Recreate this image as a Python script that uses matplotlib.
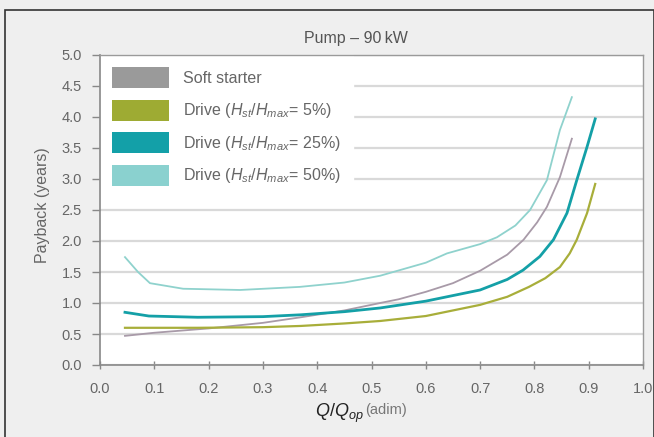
import matplotlib.pyplot as plt
from matplotlib.patches import Patch, Rectangle

plt.rcParams['font.family'] = ['Liberation Sans', 'DejaVu Sans']
plt.rcParams['mathtext.fontset'] = 'custom'
plt.rcParams['mathtext.rm'] = 'Liberation Sans'
plt.rcParams['mathtext.it'] = 'Liberation Sans:italic'

# Payback curves (years) vs relative flow Q/Qop
soft_x = [0.046, 0.10, 0.20, 0.30, 0.37, 0.45, 0.516, 0.55, 0.60, 0.65, 0.70,
          0.75, 0.78, 0.805, 0.823, 0.847, 0.869]
soft_y = [0.47, 0.52, 0.59, 0.68, 0.77, 0.88, 1.00, 1.06, 1.18, 1.32, 1.52,
          1.78, 2.02, 2.30, 2.55, 3.03, 3.65]

d5_x = [0.046, 0.10, 0.18, 0.30, 0.37, 0.45, 0.516, 0.60, 0.70, 0.75, 0.79,
        0.82, 0.847, 0.865, 0.878, 0.897, 0.912]
d5_y = [0.60, 0.60, 0.60, 0.61, 0.63, 0.67, 0.71, 0.79, 0.97, 1.10, 1.26,
        1.40, 1.58, 1.80, 2.02, 2.45, 2.92]

d25_x = [0.046, 0.09, 0.18, 0.30, 0.37, 0.45, 0.516, 0.60, 0.70, 0.75, 0.779,
         0.81, 0.835, 0.86, 0.878, 0.897, 0.912]
d25_y = [0.85, 0.79, 0.77, 0.78, 0.81, 0.86, 0.92, 1.03, 1.21, 1.38, 1.53,
         1.75, 2.02, 2.45, 2.98, 3.52, 3.97]

d50_x = [0.046, 0.07, 0.092, 0.153, 0.258, 0.368, 0.45, 0.516, 0.60, 0.639,
         0.70, 0.731, 0.765, 0.792, 0.823, 0.847, 0.869]
d50_y = [1.74, 1.50, 1.32, 1.23, 1.21, 1.26, 1.33, 1.44, 1.65, 1.80,
         1.95, 2.06, 2.25, 2.50, 2.98, 3.79, 4.32]

labels = ['Soft starter',
          r'Drive ($H_{st}/H_{max}$= 5%)',
          r'Drive ($H_{st}/H_{max}$= 25%)',
          r'Drive ($H_{st}/H_{max}$= 50%)']
x_ticks = [0.0, 0.1, 0.2, 0.3, 0.4, 0.5, 0.6, 0.7, 0.8, 0.9, 1.0]
y_ticks = [0.0, 0.5, 1.0, 1.5, 2.0, 2.5, 3.0, 3.5, 4.0, 4.5, 5.0]

W, H = 654, 437
fig = plt.figure(figsize=(W / 100, H / 100), dpi=100, facecolor='#efefef')
fig.patches.append(Rectangle((5 / W, -0.1), 648.5 / W, (427 / H) + 0.1,
                             transform=fig.transFigure, fill=False,
                             edgecolor='#333333', linewidth=1.2))

ax = fig.add_axes([100 / W, 72 / H, 543 / W, 310 / H])
ax.set_facecolor('white')

ax.plot(soft_x, soft_y, color='#a89aa8', lw=1.3, zorder=3)
ax.plot(d5_x, d5_y, color='#a8ae3a', lw=1.6, zorder=3)
ax.plot(d25_x, d25_y, color='#14a0a7', lw=2.0, zorder=3)
ax.plot(d50_x, d50_y, color='#8fd2cd', lw=1.3, zorder=3)

ax.set_xlim(0, 1.0)
ax.set_ylim(0, 5.0)
ax.set_xticks(x_ticks)
ax.set_yticks(y_ticks)
ax.set_xticklabels([f'{v:.1f}' for v in x_ticks])
ax.set_yticklabels([f'{v:.1f}' for v in y_ticks])
ax.yaxis.grid(True, color='#d9d9d9', lw=1.6)
ax.set_axisbelow(True)

ax.tick_params(axis='y', direction='out', length=6, width=1, color='#888888',
               labelsize=10.5, labelcolor='#666666', pad=7)
ax.tick_params(axis='x', direction='inout', length=6, width=1, color='#888888',
               labelsize=10.5, labelcolor='#666666', pad=9)
for side in ['left', 'bottom']:
    ax.spines[side].set_color('#888888')
    ax.spines[side].set_linewidth(1.2)
for side in ['top', 'right']:
    ax.spines[side].set_color('#9a9a9a')
    ax.spines[side].set_linewidth(1.0)

handles = [Patch(facecolor='#9a9a9a'), Patch(facecolor='#9eab33'),
           Patch(facecolor='#13a0a8'), Patch(facecolor='#8ad1cf')]
leg = ax.legend(handles, labels, loc='upper left', bbox_to_anchor=(0, 1),
                borderaxespad=0, fontsize=11.5, handlelength=3.6,
                handleheight=1.65, labelspacing=0.72, handletextpad=0.85,
                borderpad=0.75, frameon=True, fancybox=False)
leg.get_frame().set_facecolor('white')
leg.get_frame().set_edgecolor('white')
leg.get_frame().set_alpha(1)
# legend box hides the grid but stays under the spines
leg.set_zorder(2)
for t in leg.get_texts():
    t.set_color('#666666')

fig.text(356 / W, 1 - 38 / H, 'Pump \u2013 90\u2009kW', ha='center',
         va='center', fontsize=11.5, color='#555555')
fig.text(42 / W, 1 - 205 / H, 'Payback (years)', rotation=90, ha='center',
         va='center', fontsize=11.5, color='#666666')
fig.text(315 / W, 1 - 417 / H, r'$Q/Q_{op}$', ha='left', va='baseline',
         fontsize=13, color='#222222')
fig.text(365 / W, 1 - 414 / H, '(adim)', ha='left', va='baseline',
         fontsize=10.5, color='#777777')

fig.savefig('out.png', dpi=100, facecolor=fig.get_facecolor())
